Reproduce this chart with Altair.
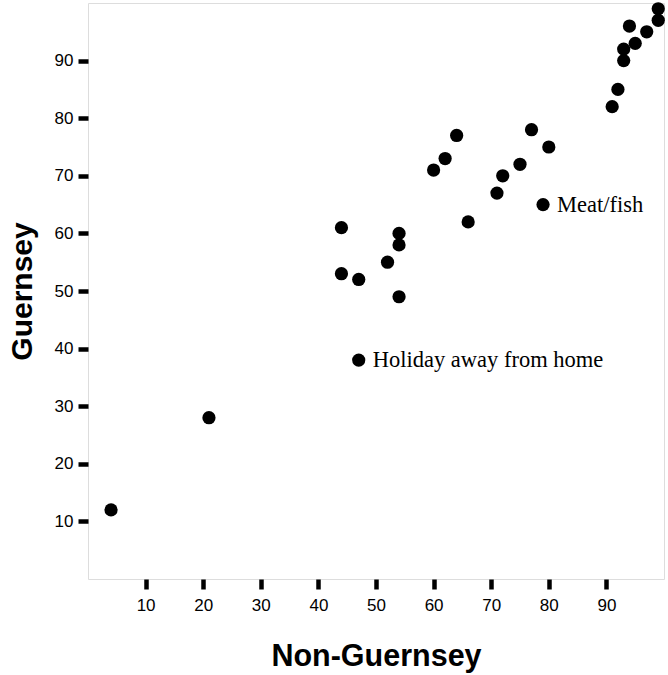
import altair as alt
import pandas as pd

# Percentages for each spending category: outside Guernsey vs. in Guernsey
non_guernsey = [4, 21, 47, 44, 44, 47, 52, 54, 54, 54, 60, 62, 64, 66, 71, 72,
                75, 77, 80, 79, 91, 92, 93, 93, 95, 94, 97, 99, 99]
guernsey = [12, 28, 38, 61, 53, 52, 55, 60, 58, 49, 71, 73, 77, 62, 67, 70,
            72, 78, 75, 65, 82, 85, 90, 92, 93, 96, 95, 97, 99]
labels = ["", "", "Holiday away from home", "", "", "", "", "", "", "", "", "", "",
          "", "", "", "", "", "", "Meat/fish", "", "", "", "", "", "", "", "", ""]

df = pd.DataFrame({"Non-Guernsey": non_guernsey, "Guernsey": guernsey, "label": labels})

ticks = [10, 20, 30, 40, 50, 60, 70, 80, 90]

x_enc = alt.X(
    "Non-Guernsey:Q",
    scale=alt.Scale(domain=[0, 100], nice=False, zero=False),
    axis=alt.Axis(
        values=ticks, grid=False, domain=False,
        tickSize=10, tickWidth=4.5, tickColor="black",
        labelFont="Liberation Sans", labelFontSize=17, labelColor="black",
        labelPadding=8,
        title="Non-Guernsey", titleFont="Liberation Sans", titleFontSize=30.5,
        titleFontWeight="bold", titleColor="black",
        titleBaseline="alphabetic", titleY=86,
    ),
)
y_enc = alt.Y(
    "Guernsey:Q",
    scale=alt.Scale(domain=[0, 100], nice=False, zero=False),
    axis=alt.Axis(
        values=ticks, grid=False, domain=False,
        tickSize=10, tickWidth=4.5, tickColor="black",
        labelFont="Liberation Sans", labelFontSize=17, labelColor="black",
        labelPadding=5,
        title="Guernsey", titleFont="Liberation Sans", titleFontSize=30,
        titleFontWeight="bold", titleColor="black",
        titleAngle=-90, titleBaseline="alphabetic", titleX=-57, titleY=288,
    ),
)

points = alt.Chart(df).mark_circle(size=175, color="black", opacity=1).encode(
    x=x_enc, y=y_enc
)

text = alt.Chart(df).mark_text(
    align="left", baseline="alphabetic", dx=14, dy=7,
    font="Liberation Serif", fontSize=22.5, color="black",
).encode(x="Non-Guernsey:Q", y="Guernsey:Q", text="label:N")

chart = (
    alt.layer(points, text)
    .properties(
        width=576, height=576,
        autosize=alt.AutoSizeParams(type="none"),
        padding={"left": 88, "top": 3, "right": 4, "bottom": 96},
    )
    .configure_view(stroke="#444444", strokeWidth=2, fill="white")
    .configure(background="white")
)

chart.save("out.html", embed_options={"renderer": "svg", "actions": False})
